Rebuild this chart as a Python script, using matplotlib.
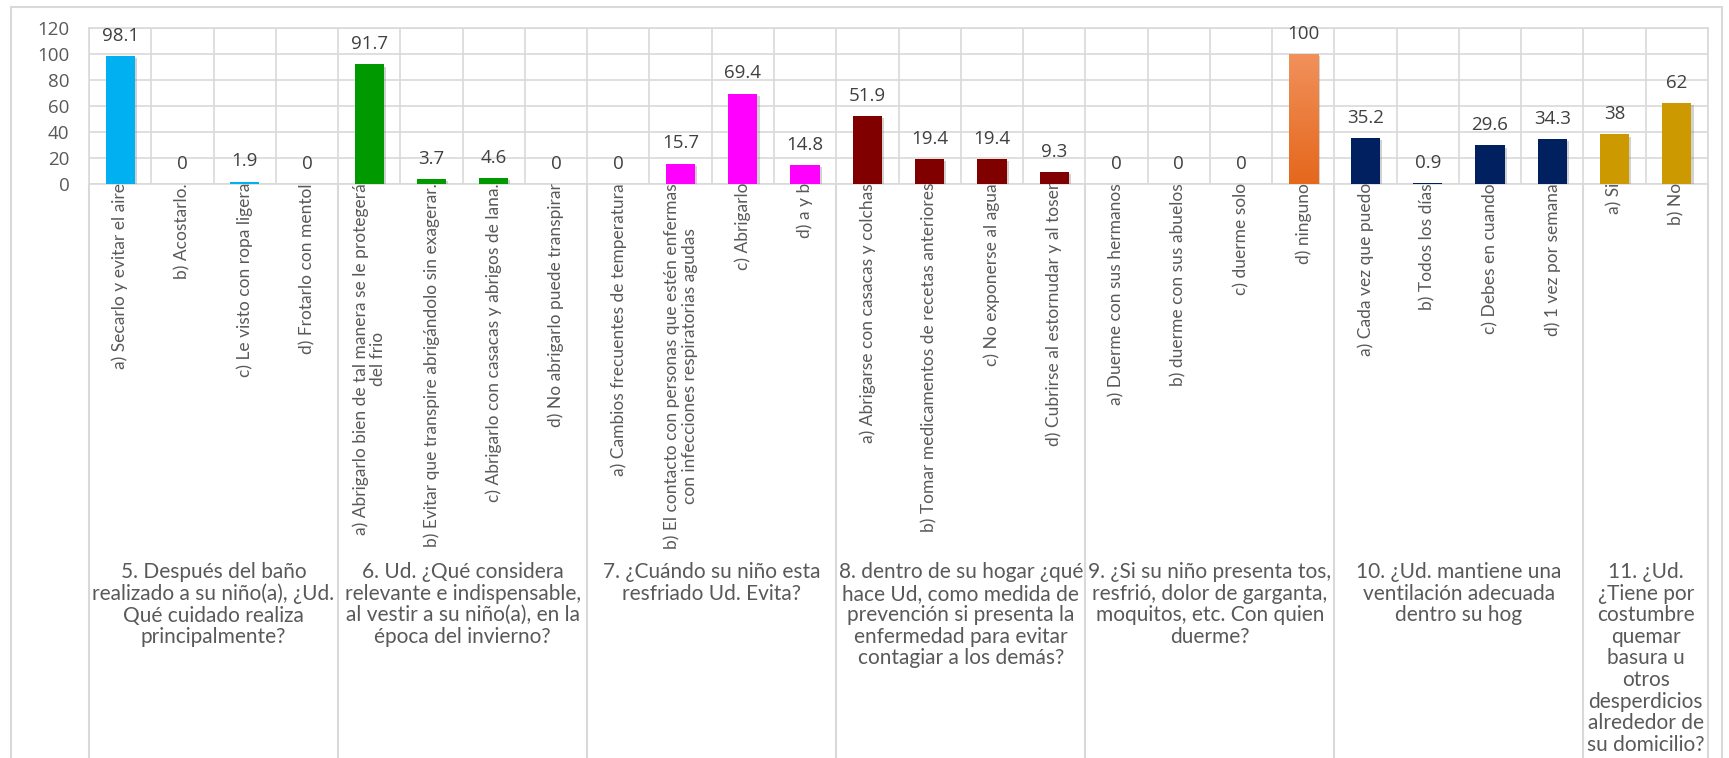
import numpy as np
import matplotlib
matplotlib.use('Agg')
import matplotlib.pyplot as plt
from matplotlib import patheffects
from matplotlib.patches import Rectangle
from matplotlib.colors import LinearSegmentedColormap

# survey questions (group labels) and their answer options
groups = [
    "5. Después del baño\nrealizado a su niño(a), ¿Ud.\nQué cuidado realiza\nprincipalmente?",
    "6. Ud. ¿Qué considera\nrelevante e indispensable,\nal vestir a su niño(a), en la\népoca del invierno?",
    "7. ¿Cuándo su niño esta\nresfriado Ud. Evita?",
    "8. dentro de su hogar ¿qué\nhace Ud, como medida de\nprevención si presenta la\nenfermedad para evitar\ncontagiar a los demás?",
    "9. ¿Si su niño presenta tos,\nresfrió, dolor de garganta,\nmoquitos, etc. Con quien\nduerme?",
    "10. ¿Ud. mantiene una\nventilación adecuada\ndentro su hog",
    "11. ¿Ud.\n¿Tiene por\ncostumbre\nquemar\nbasura u\notros\ndesperdicios\nalrededor de\nsu domicilio?",
]

options = [
    ["a) Secarlo y evitar el aire", "b) Acostarlo.", "c) Le visto con ropa ligera",
     "d) Frotarlo con mentol"],
    ["a) Abrigarlo bien de tal manera se le protegerá\ndel frio",
     "b) Evitar que transpire abrigándolo sin exagerar.",
     "c) Abrigarlo con casacas y abrigos de lana.", "d) No abrigarlo puede transpirar"],
    ["a) Cambios frecuentes de temperatura",
     "b) El contacto con personas que estén enfermas\ncon infecciones respiratorias agudas",
     "c) Abrigarlo", "d) a y b"],
    ["a) Abrigarse con casacas y colchas", "b) Tomar medicamentos de recetas anteriores",
     "c) No exponerse al agua", "d) Cubrirse al estornudar y al toser"],
    ["a) Duerme con sus hermanos", "b) duerme con sus abuelos", "c) duerme solo",
     "d) ninguno"],
    ["a) Cada vez que puedo", "b) Todos los días", "c) Debes en cuando",
     "d) 1 vez por semana"],
    ["a) Si", "b) No"],
]

values = [
    [98.1, 0, 1.9, 0],
    [91.7, 3.7, 4.6, 0],
    [0, 15.7, 69.4, 14.8],
    [51.9, 19.4, 19.4, 9.3],
    [0, 0, 0, 100],
    [35.2, 0.9, 29.6, 34.3],
    [38, 62],
]

colors = ['#00B0F0', '#009A00', '#FF00FF', '#800000', '#EC7A35', '#002060', '#CC9900']

W, H = 1729, 758
fig = plt.figure(figsize=(W / 100, H / 100), dpi=100)
fig.patch.set_facecolor('white')

# layout in pixels
left, right = 89, 1708
top, axis_y = 27.6, 184
grid_c = '#D9D9D9'
text_c = '#595959'

ax = fig.add_axes([left / W, 1 - axis_y / H, (right - left) / W, (axis_y - top) / H])

vals = [v for g in values for v in g]
cols = [colors[i] for i, g in enumerate(values) for _ in g]
labels = [o for g in options for o in g]
x = np.arange(len(vals))
n = len(vals)

bars = ax.bar(x, vals, width=0.47, color=cols, zorder=3)
shadow = [patheffects.SimplePatchShadow(offset=(1.5, -1.5), shadow_rgbFace='#808080', alpha=0.35),
          patheffects.Normal()]
for b in bars:
    b.set_path_effects(shadow)

# orange bars get a vertical gradient fill
orange = LinearSegmentedColormap.from_list('orange', ['#E5671B', '#F1915C'])
grad = np.linspace(0, 1, 256).reshape(-1, 1)
start = sum(len(g) for g in values[:4])
for b, v in zip(bars[start:start + 4], values[4]):
    if v > 0:
        im = ax.imshow(grad, cmap=orange, origin='lower', aspect='auto', zorder=4,
                       extent=[b.get_x(), b.get_x() + b.get_width(), 0, v])
        im.set_clip_path(b)

for xi, v in zip(x, vals):
    ax.annotate(f'{v:g}', (xi, v), xytext=(0, 8), textcoords='offset points',
                ha='center', va='bottom', fontsize=13.5, color='#404040',
                family='Open Sans', zorder=5)

ax.set_xlim(-0.5, n - 0.5)
ax.set_ylim(0, 120)
ax.set_yticks(range(0, 121, 20))
ax.set_xticks([])
ax.yaxis.grid(True, color=grid_c, lw=1.2, zorder=0)
ax.vlines(np.arange(-0.5, n), 0, 120, color=grid_c, lw=1.2, zorder=0)
ax.tick_params(length=0, labelsize=13.5, labelcolor=text_c, pad=14)
for lbl in ax.get_yticklabels():
    lbl.set_family('Open Sans')
for s in ax.spines.values():
    s.set_color(grid_c)
    s.set_linewidth(1.2)

# category and question labels below the axis
lab = fig.add_axes([left / W, 0, (right - left) / W, (H - axis_y) / H])
lab.set_xlim(-0.5, n - 0.5)
lab.set_ylim(H - axis_y, 0)
lab.axis('off')

bounds = [-0.5]
for g in values:
    bounds.append(bounds[-1] + len(g))
lab.vlines(bounds, 0, H - axis_y + 5, color=grid_c, lw=1.5, clip_on=False)

for xi, t in zip(x, labels):
    lab.text(xi, -1, t, rotation=90, ha='center', va='top', multialignment='center',
             fontsize=12.5, color=text_c, family='Lato', linespacing=1.15)

for i, t in enumerate(groups):
    cx = (bounds[i] + bounds[i + 1]) / 2
    lab.text(cx, 378, t, ha='center', va='top', multialignment='center',
             fontsize=15, color=text_c, family='Lato', linespacing=1.1)

# outer chart border
fig.add_artist(Rectangle((11 / W, -0.02), 1711 / W, (H - 7) / H + 0.02,
                         transform=fig.transFigure, fill=False, ec=grid_c, lw=1.5))

fig.savefig('out.png', dpi=100)
